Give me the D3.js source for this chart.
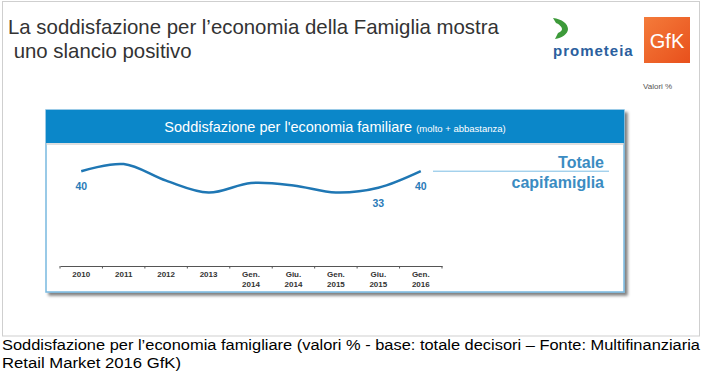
<!DOCTYPE html>
<html>
<head>
<meta charset="utf-8">
<script src="https://cdn.jsdelivr.net/npm/d3@7"></script>
<style>
  body { margin: 0; background: #fff; }
  svg { display: block; font-family: "Liberation Sans", Arial, sans-serif; }
</style>
</head>
<body>
<div id="svgContainer"></div>
<script>
const periods = ["2010", "2011", "2012", "2013", "Gen.|2014", "Giu.|2014", "Gen.|2015", "Giu.|2015", "Gen.|2016"]
const values = [40, 43, 36, 31, 35, 34, 31, 33, 40]
const labelled = [0, 7, 8]

const width = 715
const height = 386

const svg = d3
  .select("#svgContainer")
  .append("svg")
  .attr("width", width)
  .attr("height", height)

const defs = svg.append("defs")
const shadow = defs.append("filter").attr("id", "shadow").attr("x", "-5%").attr("y", "-5%").attr("width", "115%").attr("height", "115%")
shadow.append("feGaussianBlur").attr("in", "SourceAlpha").attr("stdDeviation", 1.5)
shadow.append("feOffset").attr("dx", 3).attr("dy", 3).attr("result", "b")
shadow.append("feComponentTransfer").append("feFuncA").attr("type", "linear").attr("slope", 0.5)
const merge = shadow.append("feMerge")
merge.append("feMergeNode")
merge.append("feMergeNode").attr("in", "SourceGraphic")

const gfkGrad = defs.append("linearGradient").attr("id", "gfk").attr("x1", 0).attr("y1", 0).attr("x2", 1).attr("y2", 1)
gfkGrad.append("stop").attr("offset", 0).attr("stop-color", "#f47b3a")
gfkGrad.append("stop").attr("offset", 1).attr("stop-color", "#e8501c")

// slide frame
svg.append("rect")
  .attr("x", 2.5).attr("y", 1.5).attr("width", 697).attr("height", 334.5)
  .attr("fill", "#fff").attr("stroke", "#cfcfcf")

// title
const title = svg.append("text").attr("fill", "#333").attr("font-size", 20.4)
title.append("tspan").attr("x", 8).attr("y", 34).text("La soddisfazione per l’economia della Famiglia mostra")
title.append("tspan").attr("x", 8).attr("y", 57.5).attr("xml:space", "preserve").text(" uno slancio positivo")

// prometeia logo
svg.append("path")
  .attr("d", "M553,18 C562,19 568,24 568,29 C568,34 562,38 555,39 L558,33 C561,32 562,30 562,29 C562,27 559,24 556,23 Z")
  .attr("fill", "#3d9a3a")
svg.append("text")
  .attr("x", 553).attr("y", 56)
  .attr("fill", "#2b5f9e").attr("font-size", 15).attr("font-weight", "bold")
  .attr("letter-spacing", 1)
  .text("prometeia")

// GfK logo
svg.append("rect").attr("x", 644).attr("y", 17).attr("width", 46).attr("height", 46).attr("fill", "url(#gfk)")
svg.append("text")
  .attr("x", 667).attr("y", 48).attr("text-anchor", "middle")
  .attr("fill", "#fff").attr("font-size", 20)
  .text("GfK")
svg.append("text")
  .attr("x", 643).attr("y", 89)
  .attr("fill", "#555").attr("font-size", 8)
  .text("Valori %")

// panel
const panel = { x: 46, y: 110, w: 578, h: 182, head: 33 }
svg.append("rect")
  .attr("x", panel.x).attr("y", panel.y).attr("width", panel.w).attr("height", panel.h)
  .attr("fill", "#fff").attr("stroke", "#78b9e0").attr("stroke-width", 1.5)
  .attr("filter", "url(#shadow)")
svg.append("rect")
  .attr("x", panel.x).attr("y", panel.y).attr("width", panel.w).attr("height", panel.head)
  .attr("fill", "#0b87c9")
svg.append("rect")
  .attr("x", panel.x).attr("y", panel.y + panel.head).attr("width", panel.w).attr("height", 2)
  .attr("fill", "#c9c9c9").attr("opacity", 0.6)

const head = svg.append("text")
  .attr("x", 335).attr("y", 131.5).attr("text-anchor", "middle").attr("fill", "#fff")
head.append("tspan").attr("font-size", 14.5).text("Soddisfazione per l'economia familiare ")
head.append("tspan").attr("font-size", 9.5).text("(molto + abbastanza)")

// scales
const x = d3.scaleBand().domain(periods).range([60, 442])
const y = d3.scaleLinear().domain([0, 50]).range([266, 147.5])

const axis = svg.append("g")
  .attr("transform", `translate(0,${y(0)})`)
  .call(d3.axisBottom(x).tickSize(0).tickFormat(""))
axis.select(".domain").attr("stroke", "#555").attr("stroke-width", 1)

// tick separators between bands
const edges = periods.map((p) => x(p)).concat([x.range()[1]])
svg.append("g")
  .selectAll("line")
  .data(edges)
  .join("line")
  .attr("x1", (d) => d).attr("x2", (d) => d)
  .attr("y1", y(0)).attr("y2", y(0) + 2.5)
  .attr("stroke", "#555")

const tickText = svg.append("g")
  .selectAll("text")
  .data(periods)
  .join("text")
  .attr("x", (d) => x(d) + x.bandwidth() / 2)
  .attr("text-anchor", "middle")
  .attr("font-size", 8).attr("font-weight", "bold").attr("fill", "#333")
tickText.each(function (d) {
  const parts = d.split("|")
  parts.forEach((t, i) => {
    d3.select(this).append("tspan")
      .attr("x", x(d) + x.bandwidth() / 2)
      .attr("y", 276.5 + i * 10.5)
      .text(t)
  })
})

// the line
const pts = periods.map((p, i) => ({ p, v: values[i] }))
const line = d3.line()
  .x((d) => x(d.p) + x.bandwidth() / 2)
  .y((d) => y(d.v))
  .curve(d3.curveCatmullRom.alpha(0.5))

svg.append("path")
  .datum(pts)
  .attr("d", line)
  .attr("fill", "none")
  .attr("stroke", "#1f77b4")
  .attr("stroke-width", 2.5)

svg.append("g")
  .selectAll("text")
  .data(labelled.map((i) => pts[i]))
  .join("text")
  .attr("x", (d) => x(d.p) + x.bandwidth() / 2)
  .attr("y", (d, i) => (i === 1 ? y(d.v) + 19.5 : y(d.v) + 18.5))
  .attr("text-anchor", "middle")
  .attr("font-size", 10.5).attr("font-weight", "bold").attr("fill", "#2a7bb8")
  .text((d) => d.v)

// series label
const last = pts[pts.length - 1]
svg.append("line")
  .attr("x1", 433).attr("x2", 609)
  .attr("y1", y(last.v)).attr("y2", y(last.v))
  .attr("stroke", "#7cbde4").attr("stroke-width", 1)
svg.append("text")
  .attr("x", 604).attr("y", 167.5).attr("text-anchor", "end")
  .attr("font-size", 16).attr("font-weight", "bold").attr("fill", "#3b8cc2")
  .text("Totale")
svg.append("text")
  .attr("x", 604).attr("y", 188).attr("text-anchor", "end")
  .attr("font-size", 16).attr("font-weight", "bold").attr("fill", "#3b8cc2")
  .text("capifamiglia")

// caption
const cap = svg.append("text")
  .attr("font-size", 15.5).attr("fill", "#000")
cap.append("tspan").attr("x", 2).attr("y", 350)
  .attr("textLength", 698).attr("lengthAdjust", "spacingAndGlyphs")
  .text("Soddisfazione per l’economia famigliare (valori % - base: totale decisori – Fonte: Multifinanziaria")
cap.append("tspan").attr("x", 2).attr("y", 368)
  .attr("textLength", 179).attr("lengthAdjust", "spacingAndGlyphs")
  .text("Retail Market 2016 GfK)")
</script>
</body>
</html>
